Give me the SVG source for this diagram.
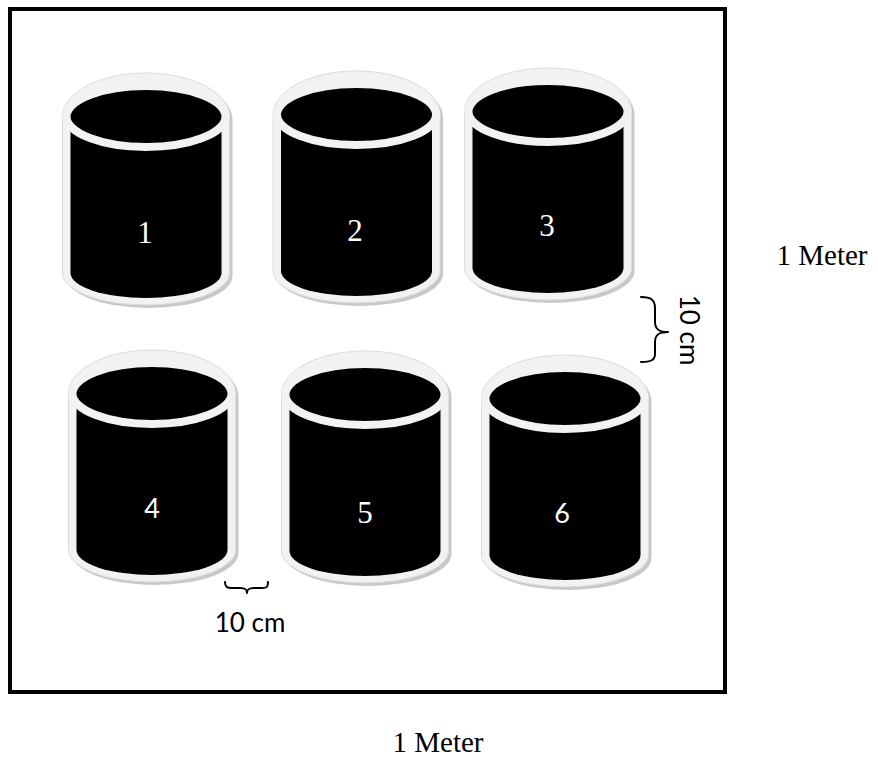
<svg xmlns="http://www.w3.org/2000/svg" width="878" height="760" viewBox="0 0 878 760">
  <defs>
    <style>
      .shadow { fill: #c8c8c8; }
      .rim { fill: #f2f2f2; stroke: #dcdcdc; stroke-width: 1; }
      .body { fill: #000000; }
      .lid { fill: #000000; stroke: #f2f2f2; stroke-width: 8; }
      .num-serif { font-family: "Liberation Serif", "Times New Roman", serif; font-size: 31px; fill: #ffffff; text-anchor: middle; }
      .num-sans { font-family: Lato, "Open Sans", sans-serif; font-size: 27px; fill: #ffffff; text-anchor: middle; }
      .label-serif { font-family: "Liberation Serif", "Times New Roman", serif; font-size: 29px; fill: #000000; text-anchor: middle; }
      .label-sans { font-family: Lato, "Open Sans", sans-serif; font-size: 26px; fill: #000000; text-anchor: middle; }
      .brace { fill: none; stroke: #000000; stroke-width: 2; stroke-linecap: round; stroke-linejoin: round; }
    </style>
    <!-- one pot, origin at the top of its black lid -->
    <g id="pot">
      <path class="shadow" d="M-80.5,30 L-80.5,186 A83.5,32 0 0 0 86.5,186 L86.5,30 A83.5,43.5 0 0 0 -80.5,30 Z"/>
      <path class="rim" d="M-83.5,26.5 L-83.5,183 A83.5,32 0 0 0 83.5,183 L83.5,26.5 A83.5,43.5 0 0 0 -83.5,26.5 Z"/>
      <path class="body" d="M-75.5,26.5 L-75.5,183 A75.5,25 0 0 0 75.5,183 L75.5,26.5 Z"/>
      <ellipse class="lid" cx="0" cy="26.5" rx="79.5" ry="30.5"/>
    </g>
  </defs>

  <rect id="plot" x="10" y="9" width="715" height="683" fill="#ffffff" stroke="#000000" stroke-width="4"/>

  <g id="pot1" transform="translate(146,90)">
    <use href="#pot"/>
    <text class="num-serif" x="-1" y="153">1</text>
  </g>
  <g id="pot2" transform="translate(356.5,88)">
    <use href="#pot"/>
    <text class="num-serif" x="-1.5" y="153">2</text>
  </g>
  <g id="pot3" transform="translate(548,85)">
    <use href="#pot"/>
    <text class="num-serif" x="-1" y="151">3</text>
  </g>
  <g id="pot4" transform="translate(152,367)">
    <use href="#pot"/>
    <text class="num-sans" x="0" y="151">4</text>
  </g>
  <g id="pot5" transform="translate(365,368)">
    <use href="#pot"/>
    <text class="num-serif" x="0" y="155">5</text>
  </g>
  <g id="pot6" transform="translate(565,372)">
    <use href="#pot"/>
    <text class="num-sans" x="-3" y="151">6</text>
  </g>

  <g id="spacing-marks">
    <path class="brace" d="M641,297 C651,297 655,300 655,308 L655,322 C655,330 660,332 668,332 C660,332 655,334 655,342 L655,354 C655,360 651,362 641,362"/>
    <text class="label-sans" transform="translate(680,330) rotate(90)" x="0" y="0">10 cm</text>
    <path class="brace" d="M225,582 C225,587 227,588 232,588 L240,588 C245,588 247,589 247,593 C247,589 249,588 254,588 L262,588 C267,588 268,587 268,582"/>
    <text class="label-sans" x="250" y="632">10 cm</text>
  </g>

  <g id="scale-labels">
    <text class="label-serif" x="822" y="265">1 Meter</text>
    <text class="label-serif" x="438" y="752">1 Meter</text>
  </g>
</svg>
